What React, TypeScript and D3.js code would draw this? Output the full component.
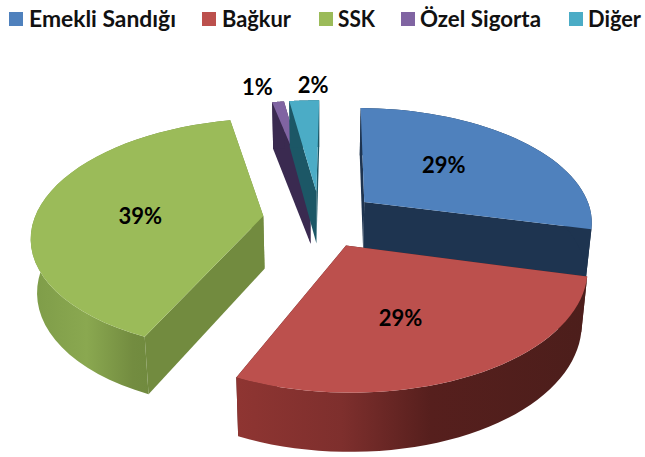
import React from "react";
import * as d3 from "d3";

const categories = ["Emekli Sandığı", "Bağkur", "SSK", "Özel Sigorta", "Diğer"];
const values = [28.7, 27.8, 40, 1, 2.5];
const percentLabels = ["29%", "29%", "39%", "1%", "2%"];
const topColors = ["#4f81bd", "#bc504d", "#9bbb59", "#8064a2", "#4bacc6"];
const wallColors = ["#1e3450", "#4f1f1c", "#728b3f", "#3a2a50", "#1c5766"];

// layout only
const legendSwatchX = [9, 202, 319, 401, 569];
const legendTextX = [29, 222, 338, 420, 588];
const legendTextW = [147, 69, 37, 121, 53];
const labelRadius = [0.52, 0.55, 0.55, 1.28, 1.2];
const labelNudge = [[-6, -5], [-10, 6], [0, 6], [-13, 6], [11, -1]];
const drawOrder = [3, 4, 0, 2, 1];
const redStops = [[0, "#8f3532"], [0.3, "#7e2f2d"], [0.55, "#561f1d"], [1, "#4c1e1b"]];
const greenStops = [[0, "#7f9d49"], [0.45, "#8aa850"], [0.85, "#738c40"], [1, "#708a3e"]];

const CX = 320, CY = 219, A = 229, B = 114, K = 0.16, EXPLODE = 0.25, ROT = 0.7;
const FONT = "Lato, 'Open Sans', sans-serif";

const rad = (deg: number) => (deg * Math.PI) / 180;
function project(u: number, v: number, bottom: boolean): [number, number] {
  const w = 1 - K * v;
  let x = (A * u) / w;
  let y = (B * v) / w;
  if (bottom) {
    x *= 0.978;
    y += 53 * (1 + 0.096 * v);
  }
  return [CX + x, CY + y];
}

const pieGen = d3.pie<number>().sort(null).startAngle(rad(ROT)).endAngle(rad(360 + ROT));
const arcs = pieGen(values);
const lineGen = d3.line<[number, number]>();

export default function App() {
  const slices = arcs.map((a, i) => {
    const mid = (a.startAngle + a.endAngle) / 2;
    const ou = EXPLODE * Math.sin(mid);
    const ov = -EXPLODE * Math.cos(mid);
    const angles = d3.range(0, 41).map((t) => a.startAngle + ((a.endAngle - a.startAngle) * t) / 40);
    const rimPlane = angles.map((t) => [ou + Math.sin(t), ov - Math.cos(t)] as [number, number]);
    const rimTop = rimPlane.map(([u, v]) => project(u, v, false));
    const rimBottom = rimPlane.map(([u, v]) => project(u, v, true));
    const apexTop = project(ou, ov, false);
    const apexBottom = project(ou, ov, true);
    const n = rimTop.length - 1;
    const r = labelRadius[i];
    const lab = project(ou + r * Math.sin(mid), ov - r * Math.cos(mid), false);
    return {
      i,
      top: lineGen([apexTop, ...rimTop])! + "Z",
      outer: lineGen([...rimTop, ...rimBottom.slice().reverse()])! + "Z",
      wallEnd: lineGen([apexTop, rimTop[n], rimBottom[n], apexBottom])! + "Z",
      wallStart: lineGen([apexTop, rimTop[0], rimBottom[0], apexBottom])! + "Z",
      lx: lab[0] + labelNudge[i][0],
      ly: lab[1] + labelNudge[i][1],
    };
  });
  const outerFill = (i: number) => (i === 1 ? "url(#redSide)" : i === 2 ? "url(#greenSide)" : wallColors[i]);
  return (
    <svg
      width={645}
      height={457}
      viewBox="0 0 645 457"
      style={{ position: "fixed", left: 0, top: 0, background: "#fff" }}
    >
      <defs>
        <linearGradient id="redSide" gradientUnits="userSpaceOnUse" x1={235} x2={590} y1={0} y2={0}>
          {redStops.map(([o, c]) => <stop key={o as number} offset={o as number} stopColor={c as string} />)}
        </linearGradient>
        <linearGradient id="greenSide" gradientUnits="userSpaceOnUse" x1={35} x2={150} y1={0} y2={0}>
          {greenStops.map(([o, c]) => <stop key={o as number} offset={o as number} stopColor={c as string} />)}
        </linearGradient>
      </defs>
      {categories.map((c, i) => (
        <g key={c}>
          <rect x={legendSwatchX[i]} y={12} width={14} height={14} fill={topColors[i]} />
          <text
            x={legendTextX[i]}
            y={27}
            fontFamily={FONT}
            fontWeight={700}
            fontSize={23}
            fill="#111"
            textLength={legendTextW[i]}
            lengthAdjust="spacingAndGlyphs"
          >
            {c}
          </text>
        </g>
      ))}
      {drawOrder.map((i) => {
        const s = slices[i];
        return (
          <g key={i}>
            <path d={s.wallEnd} fill={wallColors[i]} />
            <path d={s.wallStart} fill={wallColors[i]} />
            <path d={s.outer} fill={outerFill(i)} />
            <path d={s.top} fill={topColors[i]} />
          </g>
        );
      })}
      {slices.map((s) => (
        <text
          key={s.i}
          x={s.lx}
          y={s.ly}
          textAnchor="middle"
          dominantBaseline="central"
          fontFamily={FONT}
          fontWeight={700}
          fontSize={22}
          fill="#000"
        >
          {percentLabels[s.i]}
        </text>
      ))}
    </svg>
  );
}
